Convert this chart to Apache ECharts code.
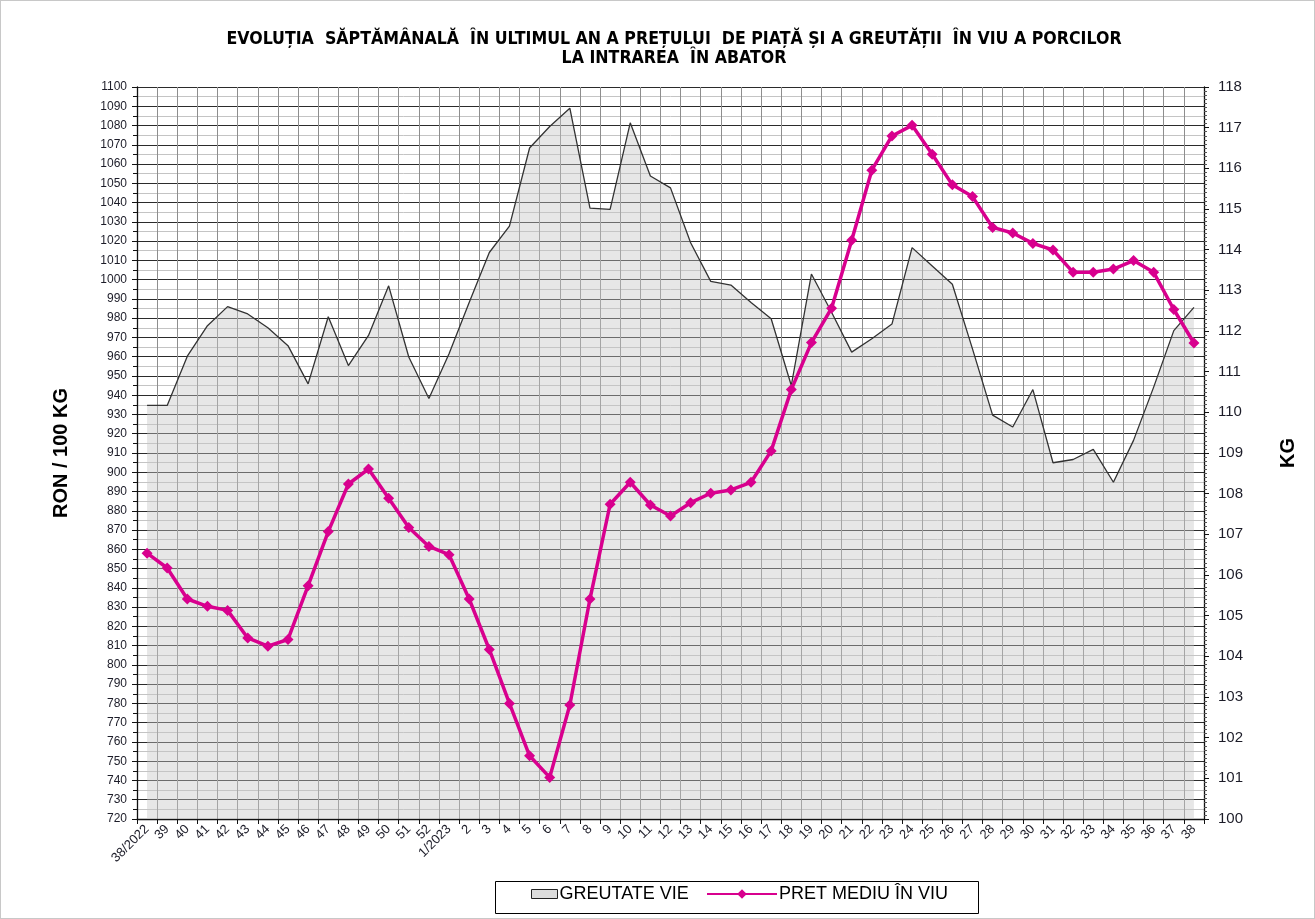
<!DOCTYPE html>
<html>
<head>
<meta charset="utf-8">
<script src="https://cdn.jsdelivr.net/npm/echarts@6/dist/echarts.min.js"></script>
<style>
html,body{margin:0;padding:0;background:#fff;}
#c{width:1315px;height:919px;box-sizing:border-box;border:1px solid #c8c8c8;}
</style>
</head>
<body>
<div id="c"></div>
<script>
const categories = ['38/2022','39','40','41','42','43','44','45','46','47','48','49','50','51','52',
  '1/2023','2','3','4','5','6','7','8','9','10','11','12','13','14','15','16','17','18','19','20',
  '21','22','23','24','25','26','27','28','29','30','31','32','33','34','35','36','37','38'];

// PRET MEDIU ÎN VIU (RON / 100 KG)
const pretMediu = [858.0,850.3,834.2,830.4,828.3,814.0,809.7,813.2,841.1,869.2,893.9,901.7,886.5,871.3,861.5,
  857.2,834.2,808.0,780.0,752.8,741.6,779.2,834.2,883.4,894.8,883.0,877.3,884.2,889.1,890.8,894.8,911.1,942.9,967.3,985.2,
  1020.4,1056.8,1074.6,1080.1,1065.1,1049.2,1043.1,1027.1,1024.2,1018.8,1015.4,1003.8,1003.8,1005.5,1009.9,1003.8,984.5,967.1];

// GREUTATE VIE (KG)
const greutateVie = [110.17,110.17,111.38,112.13,112.60,112.42,112.08,111.64,110.70,112.35,111.15,111.89,113.11,111.36,110.34,
  111.44,112.70,113.93,114.58,116.50,117.03,117.48,115.02,114.99,117.12,115.81,115.52,114.17,113.22,113.13,112.70,112.30,110.66,113.40,112.46,
  111.48,111.81,112.17,114.05,113.60,113.15,111.56,109.93,109.64,110.56,108.76,108.84,109.09,108.28,109.31,110.62,112.01,112.58];

const titleText = 'EVOLUȚIA  SĂPTĂMÂNALĂ  ÎN ULTIMUL AN A PREȚULUI  DE PIAȚĂ ȘI A GREUTĂȚII  ÎN VIU A PORCILOR\nLA INTRAREA  ÎN ABATOR';
const leftName = 'RON / 100 KG';
const rightName = 'KG';
const nameArea = 'GREUTATE VIE';
const nameLine = 'PRET MEDIU ÎN VIU';

const chart = echarts.init(document.getElementById('c'), null, {renderer:'canvas'});
const labelColor = '#1c1c28';
chart.setOption({
  animation: false,
  backgroundColor: '#ffffff',
  title: {
    text: titleText,
    left: 668, top: 24, textAlign: 'center',
    textStyle: {fontFamily: "'Liberation Sans Narrow','DejaVu Sans Condensed',Arial,sans-serif", fontWeight: 'bold', fontSize: 17.6, lineHeight: 19, color: '#000'}
  },
  grid: {left: 136, right: 110, top: 86, bottom: 99, containLabel: false},
  legend: [
    {data: [{name: nameArea, icon: 'rect', itemStyle: {color: '#dcdcdc', borderColor: '#222', borderWidth: 1}}],
     left: 530, top: 884, itemWidth: 26, itemHeight: 9, itemGap: 2, padding: 0,
     textStyle: {fontFamily: 'Arial, Liberation Sans, sans-serif', fontSize: 18, color: '#000', padding: [0,0,0,-3]}},
    {data: [nameLine], left: 705, top: 884, itemWidth: 70, itemHeight: 12, padding: 0,
     textStyle: {fontFamily: 'Arial, Liberation Sans, sans-serif', fontSize: 18, color: '#000', padding: [0,0,0,-3]}}
  ],
  graphic: [
    {type: 'rect', left: 492, top: 878, shape: {width: 483, height: 32}, style: {fill: 'none', stroke: '#000', lineWidth: 1}, z: 100}
  ],
  xAxis: {
    type: 'category', data: categories, boundaryGap: true,
    axisLine: {show: true, lineStyle: {color: '#111', width: 1.3}},
    axisTick: {show: true, interval: 0, length: 5, lineStyle: {color: '#111'}},
    axisLabel: {interval: 0, rotate: 45, fontFamily: 'Arial, Liberation Sans, sans-serif', fontSize: 13, color: labelColor, margin: 8},
    splitLine: {show: true, interval: 0, lineStyle: {color: '#8e8e8e', width: 1}}
  },
  yAxis: [
    {type: 'value', min: 720, max: 1100, interval: 10, position: 'left',
     name: leftName, nameLocation: 'middle', nameGap: 66, nameRotate: 90,
     nameTextStyle: {fontFamily: 'Arial, Liberation Sans, sans-serif', fontWeight: 'bold', fontSize: 20, color: '#000'},
     axisLine: {show: true, lineStyle: {color: '#111', width: 1.3}},
     axisTick: {show: true, length: 5, lineStyle: {color: '#111'}},
     minorTick: {show: true, splitNumber: 2, length: 4, lineStyle: {color: '#111'}},
     axisLabel: {fontFamily: 'Arial, Liberation Sans, sans-serif', fontSize: 12, color: labelColor, margin: 10,
                 formatter: function (v) { return String(v); }},
     splitLine: {show: true, lineStyle: {color: '#2b2b2b', width: 1.2}},
     minorSplitLine: {show: true, lineStyle: {color: '#c4c4c4', width: 1}}
    },
    {type: 'value', min: 100, max: 118, interval: 1, position: 'right',
     name: rightName, nameLocation: 'middle', nameGap: 74, nameRotate: 90,
     nameTextStyle: {fontFamily: 'Arial, Liberation Sans, sans-serif', fontWeight: 'bold', fontSize: 20, color: '#000'},
     axisLine: {show: true, lineStyle: {color: '#111', width: 1.3}},
     axisTick: {show: true, length: 5, lineStyle: {color: '#111'}},
     minorTick: {show: true, splitNumber: 10, length: 3, lineStyle: {color: '#555'}},
     axisLabel: {fontFamily: 'Arial, Liberation Sans, sans-serif', fontSize: 15, color: labelColor, margin: 14,
                 formatter: function (v) { return String(v); }},
     splitLine: {show: false}
    }
  ],
  series: [
    {name: nameArea, type: 'line', yAxisIndex: 1, data: greutateVie, symbol: 'none',
     lineStyle: {color: '#333', width: 1.3},
     itemStyle: {color: '#dcdcdc'},
     areaStyle: {color: 'rgba(198,198,198,0.6)', origin: 'start'}, z: 2},
    {name: nameLine, type: 'line', yAxisIndex: 0, data: pretMediu, symbol: 'diamond', symbolSize: 11,
     lineStyle: {color: '#D8008E', width: 3.5},
     itemStyle: {color: '#D8008E'}, z: 3}
  ]
});
</script>
</body>
</html>
